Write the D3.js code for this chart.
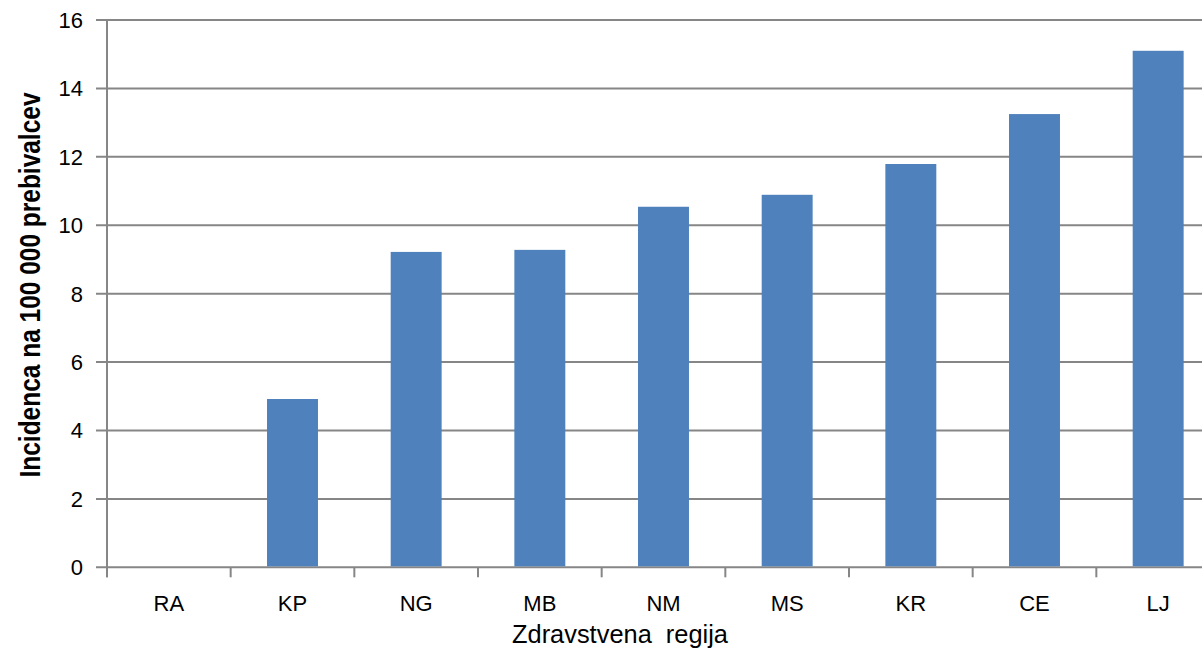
<!DOCTYPE html>
<html>
<head>
<meta charset="utf-8">
<script src="https://cdn.jsdelivr.net/npm/d3@7"></script>
<style>
  html, body { margin: 0; padding: 0; background: #fff; }
  svg { display: block; }
</style>
</head>
<body>
<svg id="chart" width="1202" height="651"></svg>
<script>
// Incidence per 100 000 inhabitants by health region
const regions = ["RA", "KP", "NG", "MB", "NM", "MS", "KR", "CE", "LJ"];
const incidence = [0, 4.92, 9.22, 9.28, 10.54, 10.89, 11.79, 13.25, 15.10];
const yTicks = [0, 2, 4, 6, 8, 10, 12, 14, 16];

const svg = d3.select("#chart");
const gridColor = "#868686";
const barColor = "#4F81BD";

const plotLeft = 107, plotRight = 1220, plotTop = 20, plotBottom = 567.3;

const x = d3.scaleBand()
  .domain(regions)
  .range([plotLeft, plotRight])
  .paddingInner(0.588)
  .paddingOuter(0.294);

const y = d3.scaleLinear().domain([0, 16]).range([plotBottom, plotTop]);

// horizontal gridlines with outer tick stubs
svg.append("g")
  .selectAll("line")
  .data(yTicks)
  .join("line")
  .attr("x1", plotLeft - 11)
  .attr("x2", plotRight)
  .attr("y1", d => y(d))
  .attr("y2", d => y(d))
  .attr("stroke", gridColor)
  .attr("stroke-width", 2);

// y tick labels
svg.append("g")
  .selectAll("text")
  .data(yTicks)
  .join("text")
  .attr("x", 83)
  .attr("y", d => y(d))
  .attr("dy", "0.36em")
  .attr("text-anchor", "end")
  .attr("font-family", "'Liberation Sans', Arial, sans-serif")
  .attr("font-size", 22)
  .attr("fill", "#000")
  .text(d => d);

// vertical axis line
svg.append("line")
  .attr("x1", plotLeft).attr("x2", plotLeft)
  .attr("y1", plotTop).attr("y2", plotBottom + 10)
  .attr("stroke", gridColor)
  .attr("stroke-width", 2);

// category boundary ticks on the x axis
const step = x.step();
const boundaries = d3.range(regions.length + 1).map(i => plotLeft + i * step);
svg.append("g")
  .selectAll("line")
  .data(boundaries)
  .join("line")
  .attr("x1", d => d).attr("x2", d => d)
  .attr("y1", plotBottom).attr("y2", plotBottom + 10)
  .attr("stroke", gridColor)
  .attr("stroke-width", 2);

// bars
svg.append("g")
  .selectAll("rect")
  .data(regions.map((r, i) => ({ r, v: incidence[i] })))
  .join("rect")
  .attr("x", d => x(d.r))
  .attr("width", x.bandwidth())
  .attr("y", d => y(d.v))
  .attr("height", d => Math.max(0, y(0) - y(d.v) - 1))
  .attr("fill", barColor);

// x category labels
svg.append("g")
  .selectAll("text")
  .data(regions)
  .join("text")
  .attr("x", d => x(d) + x.bandwidth() / 2)
  .attr("y", 611)
  .attr("text-anchor", "middle")
  .attr("font-family", "'Liberation Sans', Arial, sans-serif")
  .attr("font-size", 22)
  .attr("fill", "#000")
  .text(d => d);

// axis titles
svg.append("text")
  .attr("x", 620)
  .attr("y", 643)
  .attr("text-anchor", "middle")
  .attr("font-family", "'Liberation Sans Narrow', 'Liberation Sans', Arial, sans-serif")
  .attr("font-size", 26)
  .attr("textLength", 216)
  .attr("lengthAdjust", "spacingAndGlyphs")
  .attr("fill", "#000")
  .attr("xml:space", "preserve")
  .text("Zdravstvena  regija");

svg.append("text")
  .attr("transform", "translate(40,285) rotate(-90)")
  .attr("text-anchor", "middle")
  .attr("font-family", "'Liberation Sans Narrow', 'Liberation Sans', Arial, sans-serif")
  .attr("font-size", 30)
  .attr("font-weight", "bold")
  .attr("textLength", 385)
  .attr("lengthAdjust", "spacingAndGlyphs")
  .attr("fill", "#000")
  .text("Incidenca na 100 000 prebivalcev");
</script>
</body>
</html>
